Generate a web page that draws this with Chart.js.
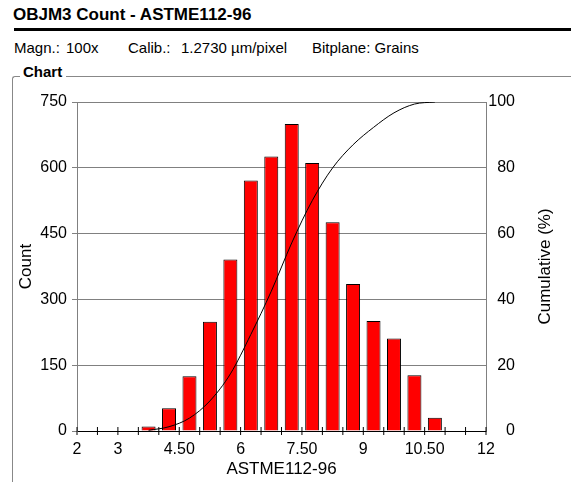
<!DOCTYPE html>
<html><head><meta charset="utf-8">
<script src="https://cdn.jsdelivr.net/npm/chart.js@4"></script>
<style>
html,body{margin:0;padding:0;background:#fff;}
body{width:571px;height:482px;position:relative;overflow:hidden;font-family:"Liberation Sans",Arial,sans-serif;color:#000;}
#wrap{position:absolute;left:0;top:0;width:571px;height:482px;}
.t{position:absolute;white-space:nowrap;}
#title{left:13px;top:5px;font-weight:bold;font-size:17px;line-height:20px;}
#rule{position:absolute;left:14px;top:28px;width:557px;height:3px;background:#000;}
.info{font-size:15px;line-height:17px;top:39px;}
#chartlbl{left:23px;top:63px;font-weight:bold;font-size:15px;line-height:17px;}
#gline{position:absolute;left:66px;top:76px;width:505px;height:0;border-top:1px solid #888;}
#gleft{position:absolute;left:12px;top:76px;width:7px;height:420px;border-top:1px solid #888;border-left:1px solid #888;border-top-left-radius:3px;}
</style></head>
<body>
<div class="t" id="title">OBJM3 Count - ASTME112-96</div>
<div id="rule"></div>
<div class="t info" style="left:14px">Magn.:</div>
<div class="t info" style="left:66px">100x</div>
<div class="t info" style="left:128px">Calib.:</div>
<div class="t info" style="left:181px">1.2730 µm/pixel</div>
<div class="t info" style="left:312px">Bitplane: Grains</div>
<div class="t" id="chartlbl">Chart</div>
<div id="gline"></div>
<div id="gleft"></div>
<div id="wrap"><canvas id="c"></canvas></div>
<script>
// ---- data ----
const binCenters = [3.75, 4.25, 4.75, 5.25, 5.75, 6.25, 6.75, 7.25, 7.75, 8.25, 8.75, 9.25, 9.75, 10.25, 10.75];
const counts = [10, 52, 125, 249, 391, 571, 626, 700, 611, 476, 335, 251, 211, 127, 30];
const cumulative = [0.21, 1.30, 3.92, 9.15, 17.36, 29.34, 42.48, 57.17, 69.99, 79.98, 87.01, 92.28, 96.70, 99.37, 100];
const xLabelValues = [2, 3, 4.5, 6, 7.5, 9, 10.5, 12];
const xLabelTexts = ['2', '3', '4.50', '6', '7.50', '9', '10.50', '12'];
const titleText = 'ASTME112-96';
const leftTitle = 'Count';
const rightTitleText = 'Cumulative (%)';

Chart.defaults.font.family = '"Liberation Sans", Arial, sans-serif';
Chart.defaults.color = '#000';

const xTickPlugin = {
  id: 'xTicks',
  afterDraw(chart) {
    const s = chart.scales.x;
    const ctx = chart.ctx;
    const yb = chart.chartArea.bottom;
    ctx.save();
    ctx.strokeStyle = '#000';
    ctx.lineWidth = 1;
    s.ticks.forEach(t => {
      const px = s.getPixelForValue(t.value);
      ctx.beginPath();
      ctx.moveTo(px, yb - 4);
      ctx.lineTo(px, yb + 4);
      ctx.stroke();
    });
    ctx.restore();
  }
};
const rightTitlePlugin = {
  id: 'rightTitle',
  afterDraw(chart) {
    const s = chart.scales.y1;
    const ctx = chart.ctx;
    const ca = chart.chartArea;
    ctx.save();
    ctx.translate(s.right + 30, (ca.top + ca.bottom) / 2);
    ctx.rotate(-Math.PI / 2);
    ctx.font = '17px "Liberation Sans", Arial, sans-serif';
    ctx.fillStyle = '#000';
    ctx.textAlign = 'center';
    ctx.textBaseline = 'middle';
    ctx.fillText(rightTitleText, 0, 0);
    ctx.restore();
  }
};

new Chart(document.getElementById('c'), {
  type: 'bar',
  data: {
    datasets: [
      {
        type: 'line',
        data: binCenters.map((x, i) => ({x: x, y: cumulative[i]})),
        yAxisID: 'y1',
        borderColor: '#000',
        borderWidth: 1,
        pointRadius: 0,
        fill: false,
        cubicInterpolationMode: 'monotone',
        order: 0
      },
      {
        type: 'bar',
        data: binCenters.map((x, i) => ({x: x, y: counts[i]})),
        yAxisID: 'y',
        backgroundColor: '#FF0000',
        borderColor: '#000',
        borderWidth: 1,
        barPercentage: 0.684,
        categoryPercentage: 1,
        order: 1
      }
    ]
  },
  options: {
    responsive: true,
    maintainAspectRatio: false,
    animation: false,
    events: [],
    layout: {padding: {left: 0, right: 56, top: 102, bottom: 0}},
    plugins: {legend: {display: false}, tooltip: {enabled: false}},
    scales: {
      x: {
        type: 'linear', position: 'bottom', min: 2, max: 12, offset: false,
        afterFit: s => { s.height = 51; },
        grid: {display: true, drawOnChartArea: false, drawTicks: false, offset: false},
        border: {display: true, color: '#000', width: 1},
        ticks: {
          stepSize: 0.5, autoSkip: false, maxRotation: 0, padding: 9,
          font: {size: 16}, color: '#000',
          callback: v => { const i = xLabelValues.indexOf(v); return i >= 0 ? xLabelTexts[i] : ''; }
        },
        title: {display: true, text: titleText, font: {size: 17}, color: '#000', padding: {top: 0, bottom: 2}}
      },
      y: {
        type: 'linear', position: 'left', min: 0, max: 750,
        afterFit: s => { s.width = 77; },
        ticks: {stepSize: 150, padding: 5, font: {size: 16}, color: '#000'},
        grid: {color: c => (c.tick && c.tick.value === 0) ? '#000' : '#808080', tickColor: '#808080', tickLength: 5},
        border: {color: '#808080'},
        title: {display: true, text: leftTitle, font: {size: 17}, color: '#000', padding: {top: 16, bottom: 0}}
      },
      y1: {
        type: 'linear', position: 'right', min: 0, max: 100,
        afterFit: s => { s.width = 29; },
        ticks: {stepSize: 20, crossAlign: 'far', padding: 4, font: {size: 16}, color: '#000'},
        grid: {drawOnChartArea: false, drawTicks: false},
        border: {color: '#808080'}
      }
    }
  },
  plugins: [xTickPlugin, rightTitlePlugin]
});
</script>
</body></html>
